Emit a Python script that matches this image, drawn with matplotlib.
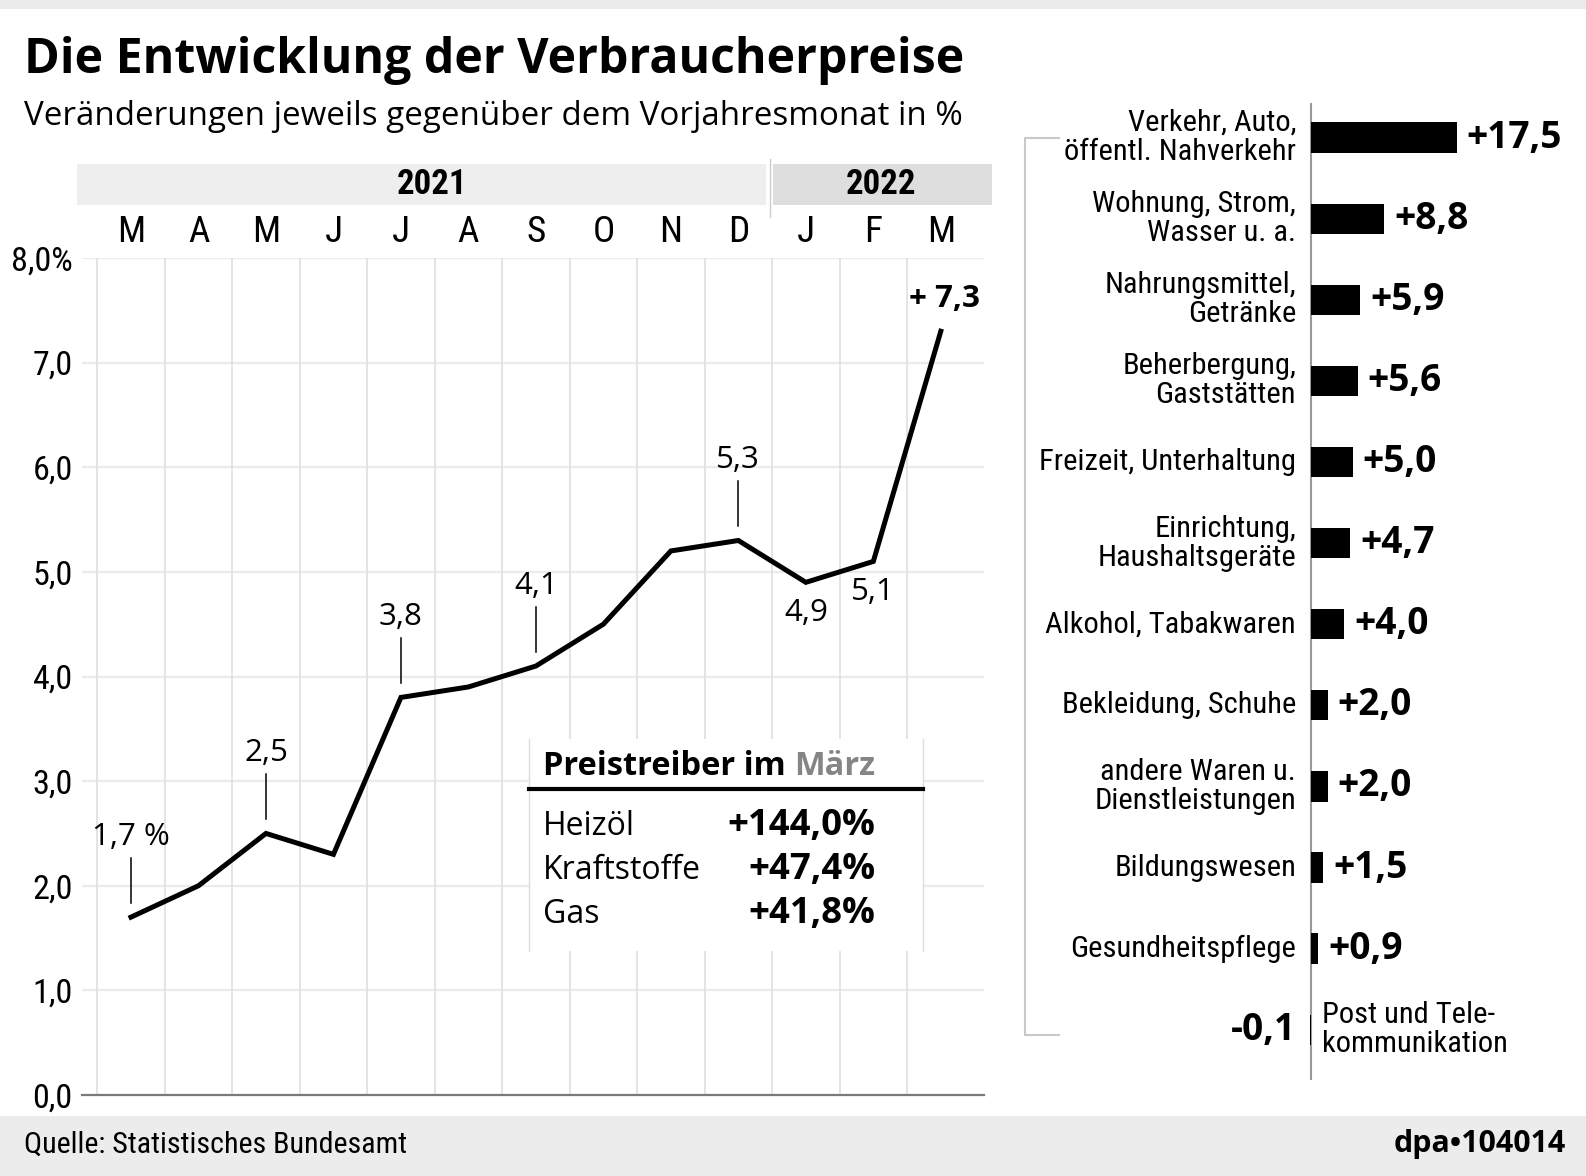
import matplotlib
matplotlib.use("Agg")
import matplotlib.pyplot as plt
from matplotlib import font_manager as fm
import matplotlib.transforms as mtrans
from matplotlib.patches import Rectangle

# ---------------- data ----------------
months = ["M", "A", "M", "J", "J", "A", "S", "O", "N", "D", "J", "F", "M"]
inflation = [1.7, 2.0, 2.5, 2.3, 3.8, 3.9, 4.1, 4.5, 5.2, 5.3, 4.9, 5.1, 7.3]
years = ["2021", "2022"]
ytick_values = [0, 1, 2, 3, 4, 5, 6, 7, 8]
ytick_labels = ["0,0", "1,0", "2,0", "3,0", "4,0", "5,0", "6,0", "7,0", "8,0%"]
leader_idx = [0, 2, 4, 6, 9]
below_idx = [10, 11]
top_idx = 12

drivers = ["Heizöl", "Kraftstoffe", "Gas"]
driver_values = [144.0, 47.4, 41.8]

categories = ["Verkehr, Auto,\nöffentl. Nahverkehr", "Wohnung, Strom,\nWasser u. a.",
              "Nahrungsmittel,\nGetränke", "Beherbergung,\nGaststätten",
              "Freizeit, Unterhaltung", "Einrichtung,\nHaushaltsgeräte",
              "Alkohol, Tabakwaren", "Bekleidung, Schuhe",
              "andere Waren u.\nDienstleistungen", "Bildungswesen",
              "Gesundheitspflege", "Post und Tele-\nkommunikation"]
cat_values = [17.5, 8.8, 5.9, 5.6, 5.0, 4.7, 4.0, 2.0, 2.0, 1.5, 0.9, -0.1]


def de(v, plus=False):
    s = f"{v:+.1f}" if plus else f"{v:.1f}"
    return s.replace(".", ",")


# ---------------- fonts ----------------
names = {f.name for f in fm.fontManager.ttflist}
COND = next((n for n in ["Roboto Condensed", "Liberation Sans Narrow", "Open Sans Condensed",
                         "DejaVu Sans Condensed", "DejaVu Sans"] if n in names), "DejaVu Sans")
SANS = "Open Sans" if "Open Sans" in names else "DejaVu Sans"

W, H = 1586, 1176
fig = plt.figure(figsize=(W / 100, H / 100), dpi=100)
fig.patch.set_facecolor("white")
renderer = fig.canvas.get_renderer()


def fit(t, target):
    bb = t.get_window_extent(renderer)
    t.set_fontsize(t.get_fontsize() * target / bb.width)
    return t.get_fontsize()


# background / pixel overlay
ax0 = fig.add_axes([0, 0, 1, 1], zorder=0)
ax0.set_xlim(0, W)
ax0.set_ylim(H, 0)
ax0.axis("off")

ax0.add_patch(Rectangle((0, 0), W, 9, color="#ebebeb", lw=0))
ax0.add_patch(Rectangle((0, 1116), W, 60, color="#ececec", lw=0))

t = ax0.text(24, 73, "Die Entwicklung der Verbraucherpreise", family=SANS,
             fontweight="bold", fontsize=37, va="baseline", ha="left")
fit(t, 940)
t = ax0.text(24, 125, "Veränderungen jeweils gegenüber dem Vorjahresmonat in %",
             family=SANS, fontsize=25, va="baseline", ha="left")
fit(t, 940)

# condensed reference size
tmp = ax0.text(0, 0, "Freizeit, Unterhaltung", family=COND, fontsize=20)
S_COND = fit(tmp, 248) * 1.03
tmp.remove()

# year bands
ax0.add_patch(Rectangle((77, 164), 689, 41, color="#eeeeee", lw=0))
ax0.add_patch(Rectangle((773, 164), 219, 41, color="#dedede", lw=0))
ax0.plot([770, 770], [159, 217], color="#cccccc", lw=1)
ax0.text(432, 185, years[0], family=COND, fontsize=S_COND * 1.14, fontweight="bold",
         ha="center", va="center")
ax0.text(881, 185, years[1], family=COND, fontsize=S_COND * 1.14, fontweight="bold",
         ha="center", va="center")

# ---------------- line chart ----------------
ax1 = fig.add_axes([82.4 / W, (H - 1095) / H, (984 - 82.4) / W, (1095 - 258) / H], zorder=1)
ax1.set_facecolor("none")
ax1.set_xlim(-0.72, 12.64)
ax1.set_ylim(0, 8)
for s in ax1.spines.values():
    s.set_visible(False)
for y in ytick_values[1:]:
    ax1.axhline(y, color="#ebebeb", lw=1.6, zorder=0.5)
for i in range(len(months)):
    ax1.vlines(i - 0.5, 0, 8, color="#dddddd", lw=1.1, zorder=0.6)
ax1.axhline(0, color="#7a7a7a", lw=1.6, zorder=1, clip_on=False)

xs = list(range(len(inflation)))
ax1.plot(xs, inflation, color="black", lw=3.6, solid_joinstyle="miter", zorder=3, clip_on=False)

ax1.set_xticks([])
ax1.set_yticks(ytick_values)
ax1.set_yticklabels(ytick_labels, family=COND, fontsize=S_COND * 1.12)
ax1.tick_params(axis="y", length=0, pad=7)

trans_m = mtrans.blended_transform_factory(ax1.transData, ax0.transData)
for i, m in enumerate(months):
    ax1.text(i, 232, m, transform=trans_m, family=COND, fontsize=S_COND * 1.22,
             ha="center", va="center")

ppu = ax1.bbox.height / 8.0
for i in leader_idx:
    v = inflation[i]
    ax1.plot([i, i], [v + 14 / ppu, v + 59 / ppu], color="black", lw=1.1, zorder=3)
    lab = de(v) + (" %" if i == 0 else "")
    ax1.text(i, v + 80 / ppu, lab, family=SANS, fontsize=22.5, ha="center", va="center", zorder=4)
for i in below_idx:
    v = inflation[i]
    ax1.text(i, v - 31 / ppu, de(v), family=SANS, fontsize=22.5, ha="center", va="center", zorder=4)
v = inflation[top_idx]
ax1.text(top_idx + 0.06, v + 32 / ppu, "+ " + de(v), family=SANS, fontsize=22.5,
         fontweight="bold", ha="center", va="center", zorder=4, clip_on=False)

# ---------------- inset box ----------------
ax3 = fig.add_axes([0, 0, 1, 1], zorder=5)
ax3.set_facecolor("none")
ax3.set_xlim(0, W)
ax3.set_ylim(H, 0)
ax3.axis("off")
ax3.add_patch(Rectangle((529, 739), 394, 212, facecolor="white", edgecolor="none"))
ax3.plot([529, 529], [739, 951], color="#dcdcdc", lw=1)
ax3.plot([923, 923], [739, 951], color="#dcdcdc", lw=1)
ax3.plot([529, 923], [789, 789], color="black", lw=3)
tt = ax3.text(543, 775, "Preistreiber im März", family=SANS, fontweight="bold",
              fontsize=22, va="baseline", ha="left", color="black")
fs = fit(tt, 332)
tt.set_text("Preistreiber im")
tm = ax3.text(543 + 332, 775, "März", family=SANS, fontweight="bold", fontsize=fs,
              va="baseline", ha="right", color="#858585")

row_base = [835, 879, 923]
tr = ax3.text(543, row_base[1], drivers[1], family=SANS, fontsize=22, va="baseline")
fs_row = fit(tr, 158)
tr.remove()
tv = ax3.text(875, row_base[0], de(driver_values[0], plus=True) + "%", family=SANS,
              fontweight="bold", fontsize=22, va="baseline", ha="right")
fs_val = fit(tv, 147)
tv.remove()
for name, val, yb in zip(drivers, driver_values, row_base):
    ax3.text(543, yb, name, family=SANS, fontsize=fs_row, va="baseline", ha="left")
    ax3.text(875, yb, de(val, plus=True) + "%", family=SANS, fontsize=fs_val,
             fontweight="bold", va="baseline", ha="right")

# ---------------- bar chart ----------------
ppx = 8.325
ax2 = fig.add_axes([1000 / W, (H - 1080) / H, 586 / W, (1080 - 103) / H], zorder=1)
ax2.set_facecolor("none")
ax2.set_xlim(-311 / ppx, 275 / ppx)
ax2.set_ylim(11.62, -0.427)
ax2.axis("off")
ax2.axvline(0, color="#9a9a9a", lw=1.5, zorder=2)
ys = list(range(len(categories)))
ax2.barh(ys, cat_values, height=0.374, color="black", zorder=3)

tv = ax2.text(0, 0, "+17,5", family=SANS, fontweight="bold", fontsize=22)
fs_bar = fit(tv, 95)
tv.remove()
for k, (c, v) in enumerate(zip(categories, cat_values)):
    if v >= 0:
        ax2.text(-1.8, k, c, family=COND, fontsize=S_COND, ha="right", va="center",
                 linespacing=1.05)
        ax2.text(v + 1.2, k, de(v, plus=True), family=SANS, fontweight="bold",
                 fontsize=fs_bar, ha="left", va="center")
    else:
        ax2.text(-1.8, k, de(v), family=SANS, fontweight="bold", fontsize=fs_bar,
                 ha="right", va="center")
        ax2.text(1.3, k, c, family=COND, fontsize=S_COND, ha="left", va="center",
                 linespacing=1.05)

# bracket
ax0.plot([1059, 1025, 1025, 1059], [138, 138, 1035, 1035], color="#c8c8c8", lw=1.5)

# footer
t = ax0.text(24, 1153, "Quelle: Statistisches Bundesamt", family=COND, fontsize=20,
             va="baseline", ha="left")
fit(t, 382)
t = ax0.text(1566, 1152, "dpa\u2022104014", family=SANS, fontweight="bold", fontsize=20,
             va="baseline", ha="right")
fit(t, 172)

fig.savefig("out.png", dpi=100, facecolor="white")
